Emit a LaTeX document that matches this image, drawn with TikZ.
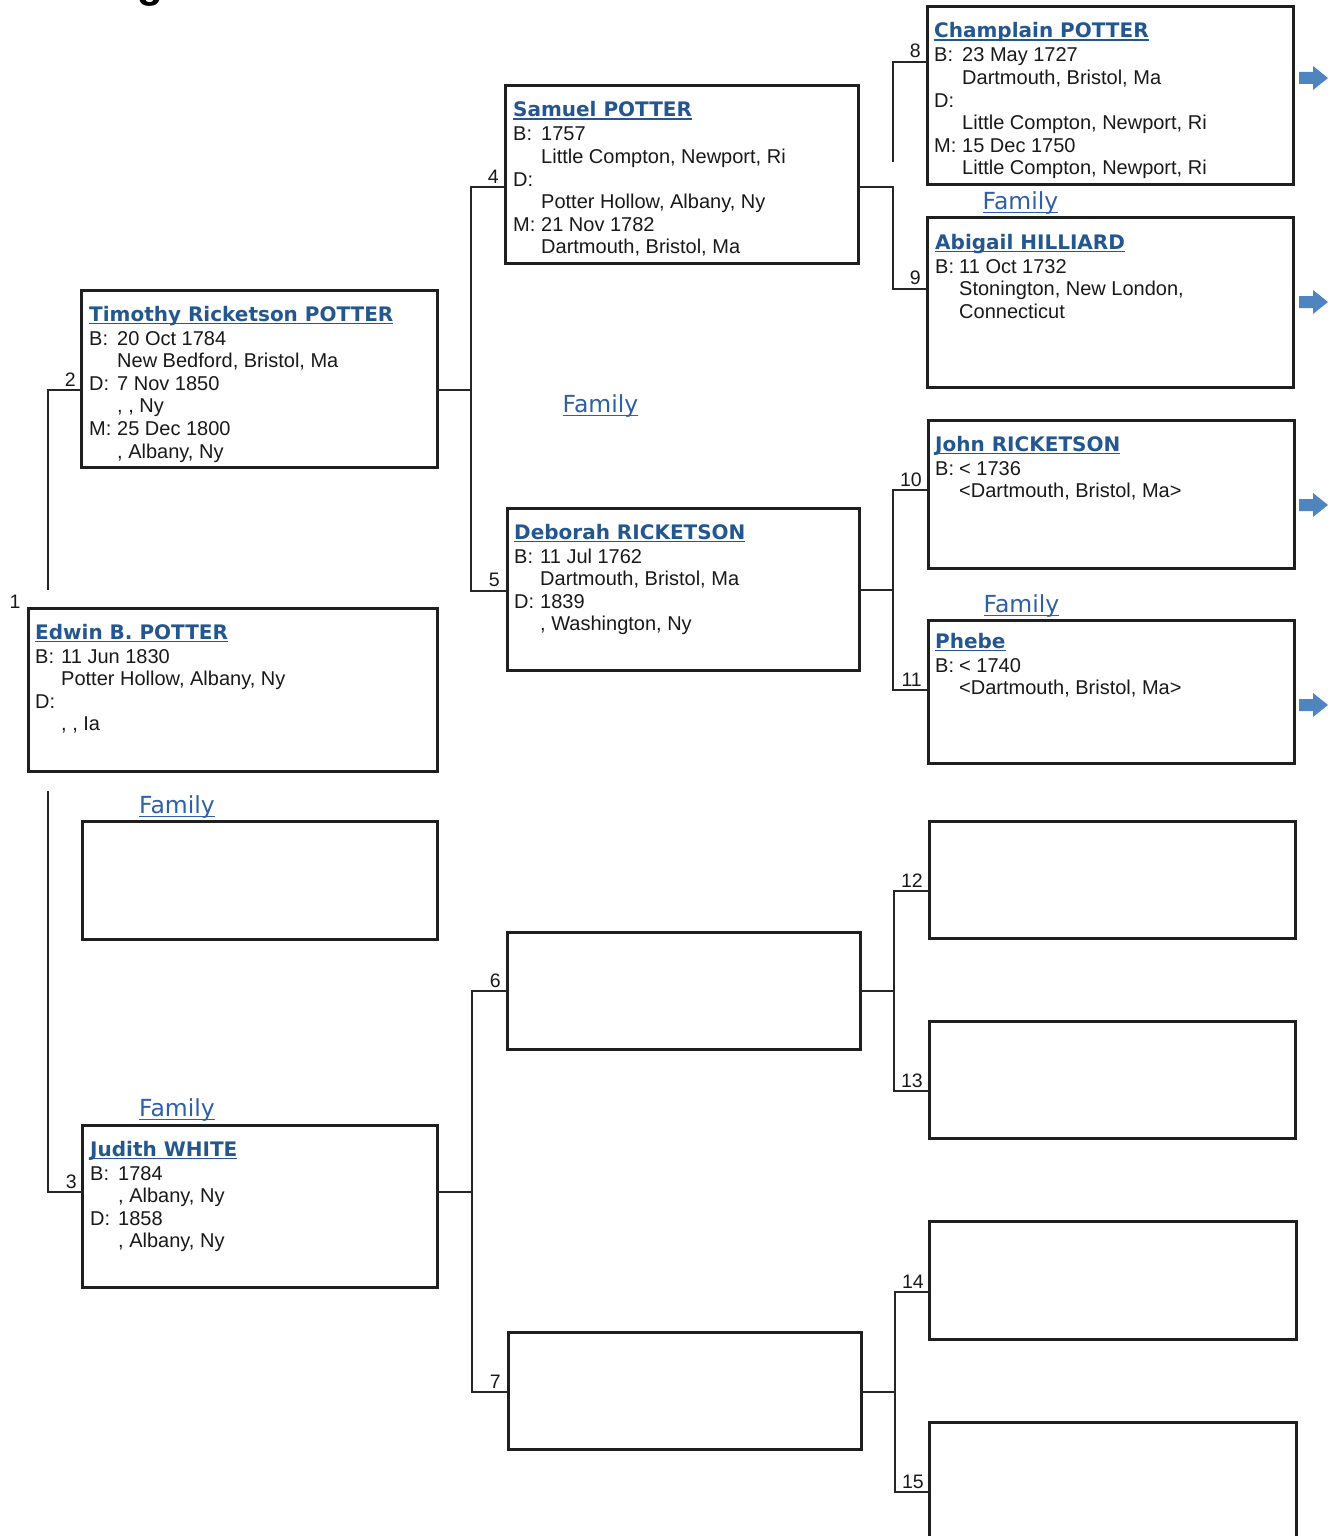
\documentclass[tikz,border=0pt]{standalone}
\usepackage{fontspec}
\setmainfont{Liberation Sans}
\newfontfamily\namefont{DejaVu Sans}
\newfontfamily\famfont{DejaVu Sans}
\usetikzlibrary{calc}
\definecolor{namecol}{HTML}{24578F}
\definecolor{famcol}{HTML}{2F5FA5}
\definecolor{arrowcol}{HTML}{4F85BF}
\newlength\indw
\setlength\indw{28pt}
\newcommand\lab[2]{\makebox[\indw][l]{#1}#2}
\newcommand\ind[1]{\hspace*{\indw}#1}
\newcommand\nm[1]{\leavevmode{\color{namecol}\namefont\bfseries\setbox0=\hbox{#1}\rlap{\rule[-3pt]{\wd0}{1.5pt}}\box0}}
\newcommand\famul[1]{\leavevmode{\setbox0=\hbox{#1}\rlap{\rule[-4pt]{\wd0}{1.3pt}}\box0}}
\newcommand\barr[2]{\fill[barrow, shift={(#1,#2)}] (-14,-6) -- (0,-6) -- (0,-12) -- (15,0) -- (0,12) -- (0,6) -- (-14,6) -- cycle;}
\tikzset{
 pbox/.style={draw=black!88, line width=3pt, inner sep=0pt, outer sep=0pt, anchor=north west, fill=white},
 conn/.style={draw=black!85, line width=1.6pt},
 txt/.style={anchor=base west, inner sep=0pt, font=\fontsize{20}{22.6}\selectfont, text=black!90},
 num/.style={anchor=base east, inner sep=0pt, font=\fontsize{19.5}{19.5}\selectfont, text=black!90},
 fam/.style={anchor=base, inner sep=0pt, font=\famfont\fontsize{23.5}{23.5}\selectfont, text=famcol},
 barrow/.style={fill=arrowcol, draw=none}
}
\begin{document}
\begin{tikzpicture}[x=1pt,y=-1pt]
\useasboundingbox (0,0) rectangle (1335,1536);
\fill[white] (0,0) rectangle (1335,1536);
% cut-off title
\node[anchor=base, inner sep=0pt, font=\fontsize{42}{42}\selectfont\bfseries] (ttl) at (150,-2) {g};
% ---------- boxes ----------
\node[pbox, minimum width=409pt, minimum height=163pt] (p1) at (28,608) {};
\node[pbox, minimum width=356pt, minimum height=177pt] (p2) at (81,290) {};
\node[pbox, minimum width=355pt, minimum height=118pt] (pe) at (82,821) {};
\node[pbox, minimum width=355pt, minimum height=162pt] (p3) at (82,1125) {};
\node[pbox, minimum width=353pt, minimum height=177pt] (p4) at (505,86) {};
\node[pbox, minimum width=352pt, minimum height=162pt] (p5) at (507,508) {};
\node[pbox, minimum width=353pt, minimum height=117pt] (p6) at (507,932) {};
\node[pbox, minimum width=353pt, minimum height=117pt] (p7) at (508,1332) {};
\node[pbox, minimum width=366pt, minimum height=177pt] (p8) at (927,7) {};
\node[pbox, minimum width=366pt, minimum height=170pt] (p9) at (927,217) {};
\node[pbox, minimum width=366pt, minimum height=148pt] (p10) at (928,420) {};
\node[pbox, minimum width=366pt, minimum height=143pt] (p11) at (928,620) {};
\node[pbox, minimum width=366pt, minimum height=117pt] (p12) at (929,821) {};
\node[pbox, minimum width=366pt, minimum height=117pt] (p13) at (929,1021) {};
\node[pbox, minimum width=367pt, minimum height=118pt] (p14) at (929,1221) {};
\node[pbox, minimum width=367pt, minimum height=130pt] (p15) at (929,1422) {};
% ---------- texts ----------
\node[txt] (t1) at (35,639) {\parbox[t]{390pt}{\setlength\indw{26pt}\nm{Edwin B. POTTER}\\[1.4pt]
\lab{B:}{11 Jun 1830}\\ \ind{Potter Hollow, Albany, Ny}\\ \lab{D:}{}\\ \ind{, , Ia}}};
\node[txt] (t2) at (89,321) {\parbox[t]{340pt}{\nm{Timothy Ricketson POTTER}\\[1.4pt]
\lab{B:}{20 Oct 1784}\\ \ind{New Bedford, Bristol, Ma}\\ \lab{D:}{7 Nov 1850}\\ \ind{, , Ny}\\ \lab{M:}{25 Dec 1800}\\ \ind{, Albany, Ny}}};
\node[txt] (t3) at (90,1156) {\parbox[t]{340pt}{\nm{Judith WHITE}\\[1.4pt]
\lab{B:}{1784}\\ \ind{, Albany, Ny}\\ \lab{D:}{1858}\\ \ind{, Albany, Ny}}};
\node[txt] (t4) at (513,117) {\parbox[t]{340pt}{\nm{Samuel POTTER}\\[1.4pt]
\lab{B:}{1757}\\ \ind{Little Compton, Newport, Ri}\\ \lab{D:}{}\\ \ind{Potter Hollow, Albany, Ny}\\ \lab{M:}{21 Nov 1782}\\ \ind{Dartmouth, Bristol, Ma}}};
\node[txt] (t5) at (514,539) {\parbox[t]{340pt}{\setlength\indw{26pt}\nm{Deborah RICKETSON}\\[1.4pt]
\lab{B:}{11 Jul 1762}\\ \ind{Dartmouth, Bristol, Ma}\\ \lab{D:}{1839}\\ \ind{, Washington, Ny}}};
\node[txt] (t8) at (934,38) {\parbox[t]{350pt}{\nm{Champlain POTTER}\\[1.4pt]
\lab{B:}{23 May 1727}\\ \ind{Dartmouth, Bristol, Ma}\\ \lab{D:}{}\\ \ind{Little Compton, Newport, Ri}\\ \lab{M:}{15 Dec 1750}\\ \ind{Little Compton, Newport, Ri}}};
\node[txt] (t9) at (935,249) {\parbox[t]{350pt}{\setlength\indw{24pt}\nm{Abigail HILLIARD}\\[1.4pt]
\lab{B:}{11 Oct 1732}\\ \ind{Stonington, New London,}\\ \ind{Connecticut}}};
\node[txt] (t10) at (935,451) {\parbox[t]{350pt}{\setlength\indw{24pt}\nm{John RICKETSON}\\[1.4pt]
\lab{B:}{< 1736}\\ \ind{<Dartmouth, Bristol, Ma>}}};
\node[txt] (t11) at (935,648) {\parbox[t]{350pt}{\setlength\indw{24pt}\nm{Phebe}\\[1.4pt]
\lab{B:}{< 1740}\\ \ind{<Dartmouth, Bristol, Ma>}}};
% ---------- Family labels ----------
\node[fam] (f1) at (600.5,412) {\famul{Family}};
\node[fam] (f2) at (1020.5,209) {\famul{Family}};
\node[fam] (f3) at (1021.5,612) {\famul{Family}};
\node[fam] (f4) at (177,813) {\famul{Family}};
\node[fam] (f5) at (177,1116) {\famul{Family}};
% ---------- connector coordinates ----------
\coordinate (a2) at (48,390);
\coordinate (a1u) at (48,590);
\coordinate (a1d) at (48,791);
\coordinate (a3) at (48,1192);
\coordinate (m2) at (471,390);
\coordinate (b4) at (471,187);
\coordinate (b5) at (471,591);
\coordinate (m3) at (472,1192);
\coordinate (b6) at (472,991);
\coordinate (b7) at (472,1392);
\coordinate (m4) at (893,187);
\coordinate (c8) at (893,62);
\coordinate (c8e) at (893,162);
\coordinate (c9) at (893,289);
\coordinate (m5) at (893,590);
\coordinate (c10) at (893,490);
\coordinate (c11) at (893,690);
\coordinate (m6) at (894,991);
\coordinate (c12) at (894,891);
\coordinate (c13) at (894,1091);
\coordinate (m7) at (895,1392);
\coordinate (c14) at (895,1292);
\coordinate (c15) at (895,1492);
% ---------- connectors ----------
\draw[conn] (p2.west |- a2) -- (a2) -- (a1u);
\draw[conn] (a1d) -- (a3) -- (p3.west |- a3);
\draw[conn] (p2.east |- m2) -- (m2);
\draw[conn] (p4.west |- b4) -- (b4) -- (b5) -- (p5.west |- b5);
\draw[conn] (p3.east |- m3) -- (m3);
\draw[conn] (p6.west |- b6) -- (b6) -- (b7) -- (p7.west |- b7);
\draw[conn] (c8e) -- (c8) -- (p8.west |- c8);
\draw[conn] (p4.east |- m4) -- (m4) -- (c9) -- (p9.west |- c9);
\draw[conn] (p5.east |- m5) -- (m5);
\draw[conn] (p10.west |- c10) -- (c10) -- (c11) -- (p11.west |- c11);
\draw[conn] (p6.east |- m6) -- (m6);
\draw[conn] (p12.west |- c12) -- (c12) -- (c13) -- (p13.west |- c13);
\draw[conn] (p7.east |- m7) -- (m7);
\draw[conn] (p14.west |- c14) -- (c14) -- (c15) -- (p15.west |- c15);
% ---------- numbers ----------
\node[num, anchor=base] (n1) at (15,608) {1};
\node[num] (n2) at (76,386) {2};
\node[num] (n3) at (77,1188) {3};
\node[num] (n4) at (499,183) {4};
\node[num] (n5) at (500,586) {5};
\node[num] (n6) at (501,987) {6};
\node[num] (n7) at (501,1388) {7};
\node[num] (n8) at (921,58) {8};
\node[num] (n9) at (921,284) {9};
\node[num] (n10) at (922,486) {10};
\node[num] (n11) at (922,686) {11};
\node[num] (n12) at (923,887) {12};
\node[num] (n13) at (923,1087) {13};
\node[num] (n14) at (924,1288) {14};
\node[num] (n15) at (924,1488) {15};
% ---------- arrows ----------
\barr{1313}{78}
\barr{1313}{302}
\barr{1313}{505}
\barr{1313}{705}
\end{tikzpicture}
\end{document}
